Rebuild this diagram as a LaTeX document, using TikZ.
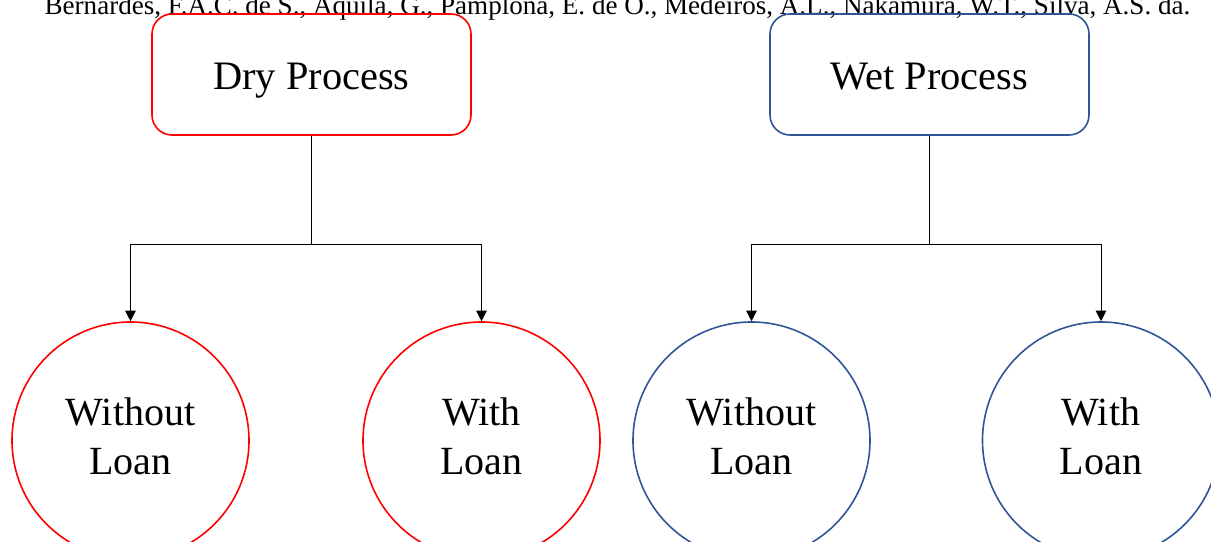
\documentclass[tikz,border=0pt]{standalone}
\usepackage{fontspec}
\setmainfont{Liberation Serif}
\usetikzlibrary{arrows.meta}
\definecolor{dryred}{RGB}{255,0,0}
\definecolor{wetblue}{RGB}{47,85,151}
\begin{document}
\begin{tikzpicture}[x=0.75pt , y=-0.75pt , line width=0.75pt ,
		procbox/.style={rectangle , rounded corners=15pt , draw , line width=1.2pt , minimum width=239.25pt , minimum height=90.75pt , text height=23pt , text depth=0pt , font=\fontsize{30.3}{36}\selectfont} ,
		loannode/.style={circle , draw , line width=1.2pt , minimum size=177.75pt , inner sep=0pt , align=center , text depth=6pt , font=\fontsize{30}{36.75}\selectfont} ,
		arr/.style={-{Triangle[length=8pt , width=8pt]}}]
			\useasboundingbox (0,0) rectangle (1211,542);
			\clip (0,0) rectangle (1211,542);
			\node [anchor=base , font=\fontsize{20.3}{22}\selectfont] (cite) at (617.5,15) {Bernardes, F.A.C. de S., Aquila, G., Pamplona, E. de O., Medeiros, A.L., Nakamura, W.T., Silva, A.S. da.};
			\node [procbox , draw=dryred] (dry) at (311.5,74.5) {Dry Process};
			\node [procbox , draw=wetblue] (wet) [right of=dry , node distance=463.5pt] {Wet Process};
			\node [loannode , draw=dryred] (drywo) at (130.5,440.5) {Without\\Loan};
			\node [loannode , draw=dryred] (drywi) [right of=drywo , node distance=263.25pt] {With\\Loan};
			\node [loannode , draw=wetblue] (wetwo) [right of=drywi , node distance=202.5pt] {Without\\Loan};
			\node [loannode , draw=wetblue] (wetwi) [right of=wetwo , node distance=262.125pt] {With\\Loan};
			\draw [arr] (dry.south) -- ++(0,109) -| (drywo.north);
			\draw [arr] (dry.south) -- ++(0,109) -| (drywi.north);
			\draw [arr] (wet.south) -- ++(0,109) -| (wetwo.north);
			\draw [arr] (wet.south) -- ++(0,109) -| (wetwi.north);
		\end{tikzpicture}
\end{document}
